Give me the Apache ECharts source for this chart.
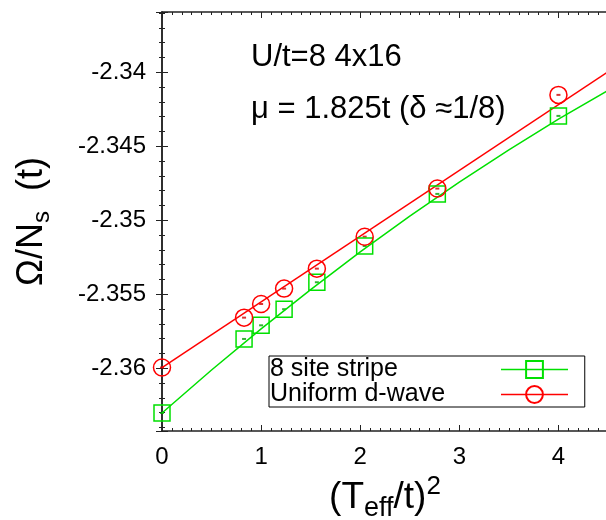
<!DOCTYPE html>
<html>
<head>
<meta charset="utf-8">
<script src="https://cdn.jsdelivr.net/npm/echarts@6/dist/echarts.min.js"></script>
<style>
html, body { margin: 0; padding: 0; background: #fff; }
#chart { width: 606px; height: 520px; }
</style>
</head>
<body>
<div id="chart"></div>
<script>
// Data
const tSquared = [0, 0.828, 1.0, 1.232, 1.5625, 2.045, 2.778, 4.0];
const stripeOmega = [-2.36302, -2.35802, -2.35710, -2.35601, -2.35419, -2.35174, -2.34822, -2.34295];
const uniformOmega = [-2.35995, -2.35658, -2.35566, -2.35462, -2.35327, -2.35111, -2.34786, -2.34153];

// Fit curves as they appear in the picture
const stripeFitX = [0, 0.5, 1, 1.5, 2, 2.5, 3, 3.5, 4, 4.5];
const stripeFit = [-2.36302, -2.36012, -2.35734, -2.35469, -2.35214, -2.34972, -2.34742, -2.34524, -2.34317, -2.34123];
const uniformFitX = [0, 4.5];
const uniformFit = [-2.35995, -2.33997];

const seriesNames = ['8 site stripe', 'Uniform d-wave'];
const annotations = ['U/t=8 4x16', 'μ = 1.825t (δ ≈1/8)'];

const GREEN = '#00e000';
const RED = '#ff0000';
const AXIS = '#222';
const FONT = '"Liberation Sans", Arial, sans-serif';

const pairs = (xs, ys) => xs.map((x, i) => [x, ys[i]]);

const chart = echarts.init(document.getElementById('chart'), null, { renderer: 'canvas' });

const tickStyle = {
    axisLine: { show: true, lineStyle: { color: AXIS, width: 1.5 } },
    axisTick: { show: true, inside: true, length: 6, lineStyle: { color: AXIS, width: 1 } },
    splitLine: { show: false }
};

const options = {
    backgroundColor: '#fff',
    animation: false,
    grid: { left: 162, right: -2, top: 12, bottom: 89, outerBoundsMode: 'none', containLabel: false },
    xAxis: [
        {
            type: 'value',
            min: 0,
            max: 4.5,
            splitNumber: 5,
            position: 'bottom',
            ...tickStyle,
            minorTick: { show: true, splitNumber: 10, length: 3, lineStyle: { color: AXIS } },
            axisLabel: { color: '#000', fontSize: 24, fontFamily: FONT, margin: 14, showMaxLabel: false },
            name: '{a|(T}{sub|eff}{a|/t)}{sup|2}',
            nameLocation: 'middle',
            nameGap: 43,
            nameTextStyle: {
                color: '#000',
                fontFamily: FONT,
                rich: {
                    a: { fontSize: 37, lineHeight: 48, fontFamily: FONT, color: '#000' },
                    sub: { fontSize: 27, lineHeight: 18, verticalAlign: 'bottom', fontFamily: FONT, color: '#000' },
                    sup: { fontSize: 26, lineHeight: 23, verticalAlign: 'top', fontFamily: FONT, color: '#000' }
                }
            }
        },
        {
            type: 'value',
            min: 0,
            max: 4.5,
            splitNumber: 5,
            position: 'top',
            ...tickStyle,
            minorTick: { show: true, splitNumber: 10, length: 3, lineStyle: { color: AXIS } },
            axisLabel: { show: false }
        }
    ],
    yAxis: [
        {
            type: 'value',
            min: -2.36424,
            max: -2.33593,
            splitNumber: 5,
            position: 'left',
            ...tickStyle,
            minorTick: { show: true, splitNumber: 5, length: 3, lineStyle: { color: AXIS } },
            axisLabel: {
                color: '#000',
                fontSize: 24,
                fontFamily: FONT,
                margin: 16,
                showMinLabel: false,
                showMaxLabel: false,
                formatter: (v) => String(Number(v.toFixed(3)))
            },
            name: '{a|Ω/N}{s|s}{a|  (t)}',
            nameLocation: 'middle',
            nameRotate: 90,
            nameGap: 108,
            nameTextStyle: {
                color: '#000',
                fontFamily: FONT,
                rich: {
                    a: { fontSize: 36, lineHeight: 44, fontFamily: FONT, color: '#000' },
                    s: { fontSize: 24, lineHeight: 16, verticalAlign: 'bottom', fontFamily: FONT, color: '#000' }
                }
            }
        },
        {
            type: 'value',
            min: -2.36424,
            max: -2.33593,
            splitNumber: 5,
            position: 'right',
            ...tickStyle,
            minorTick: { show: true, splitNumber: 5, length: 3, lineStyle: { color: AXIS } },
            axisLabel: { show: false }
        }
    ],
    legend: {
        orient: 'vertical',
        left: 269,
        top: 356,
        align: 'right',
        padding: [1, 16, 0, 1],
        itemGap: 0,
        itemWidth: 67,
        itemHeight: 21,
        borderColor: '#000',
        borderWidth: 1,
        backgroundColor: '#fff',
        selectedMode: false,
        lineStyle: { width: 1.5 },
        data: [
            { name: seriesNames[0], lineStyle: { width: 1.5, color: GREEN } },
            { name: seriesNames[1], lineStyle: { width: 1.5, color: RED } }
        ],
        formatter: (name) => '{t|' + name + '}',
        textStyle: {
            color: '#000',
            fontFamily: FONT,
            fontSize: 25,
            rich: {
                t: { width: 226, align: 'left', fontSize: 25, lineHeight: 26, fontFamily: FONT, color: '#000' }
            }
        }
    },
    graphic: annotations.map((text, i) => ({
        type: 'text',
        left: 251,
        top: i === 0 ? 42 : 94,
        style: { text: text, font: '31px ' + FONT, fill: '#000' }
    })),
    series: [
        {
            name: seriesNames[0],
            type: 'line',
            data: pairs(tSquared, stripeOmega),
            symbol: 'rect',
            symbolSize: 16,
            clip: false,
            z: 3,
            itemStyle: { color: 'transparent', borderColor: GREEN, borderWidth: 1.5 },
            lineStyle: { width: 0, color: GREEN }
        },
        {
            name: seriesNames[1],
            type: 'line',
            data: pairs(tSquared, uniformOmega),
            symbol: 'circle',
            symbolSize: 17,
            clip: false,
            z: 3,
            itemStyle: { color: 'transparent', borderColor: RED, borderWidth: 1.5 },
            lineStyle: { width: 0, color: RED }
        },
        {
            name: 'stripe fit',
            type: 'line',
            data: pairs(stripeFitX, stripeFit),
            showSymbol: false,
            silent: true,
            lineStyle: { width: 1.5, color: GREEN }
        },
        {
            name: 'uniform fit',
            type: 'line',
            data: pairs(uniformFitX, uniformFit),
            showSymbol: false,
            silent: true,
            lineStyle: { width: 1.5, color: RED }
        },
        {
            name: 'stripe err',
            type: 'scatter',
            data: pairs(tSquared, stripeOmega),
            symbol: 'rect',
            symbolSize: [4, 2],
            clip: false,
            silent: true,
            itemStyle: { color: '#00a000' }
        },
        {
            name: 'uniform err',
            type: 'scatter',
            data: pairs(tSquared, uniformOmega),
            symbol: 'rect',
            symbolSize: [4, 2],
            clip: false,
            silent: true,
            itemStyle: { color: '#d00000' }
        }
    ]
};

chart.setOption(options);
</script>
</body>
</html>
